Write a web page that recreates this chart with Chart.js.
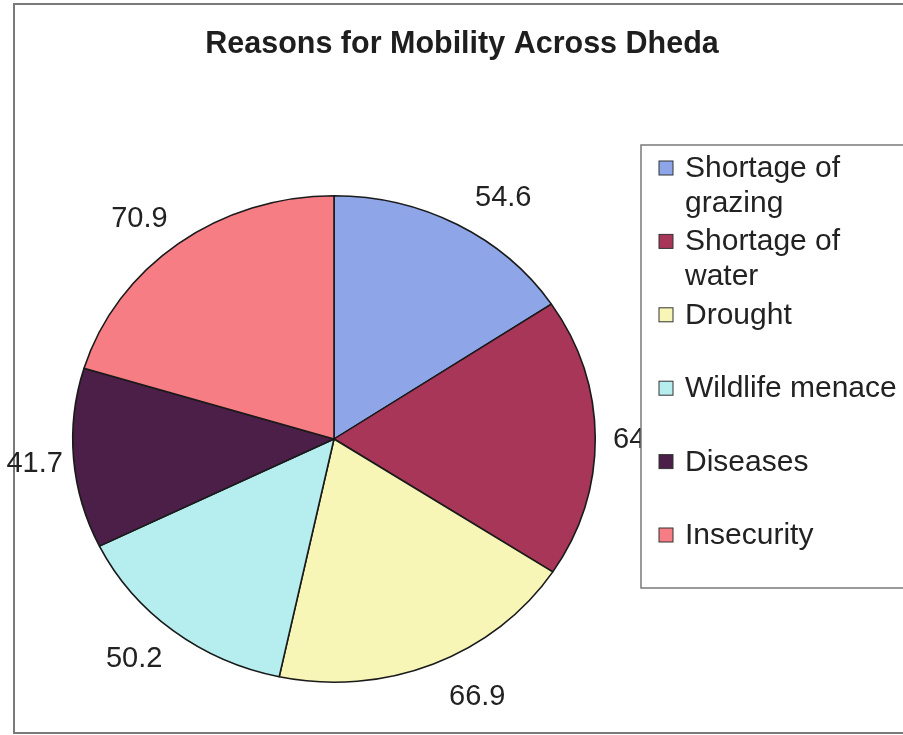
<!DOCTYPE html>
<html>
<head>
<meta charset="utf-8">
<script src="https://cdn.jsdelivr.net/npm/chart.js@4.4.1/dist/chart.umd.min.js"></script>
<style>
  html, body { margin: 0; padding: 0; background: #fff; }
</style>
</head>
<body>
<canvas id="mobilityChart" width="903" height="735"></canvas>
<script>
const chartTitle = 'Reasons for Mobility Across Dheda'
const reasons = [['Shortage of', 'grazing'], ['Shortage of', 'water'], ['Drought'], ['Wildlife menace'], ['Diseases'], ['Insecurity']]
const shares = [54.6, 64.8, 66.9, 50.2, 41.7, 70.9]
const sliceColors = ['#8ea6e8', '#a83659', '#f7f6b6', '#b6eef0', '#4b1f47', '#f67d84']

const FONT = '"Liberation Sans", Arial, sans-serif'
const stretchX = 1.074 // pie is drawn a little wider than tall

// white page with the grey frame round the chart
const frame = {
  id: 'frame',
  beforeDraw(chart) {
    const ctx = chart.ctx
    ctx.save()
    ctx.fillStyle = '#fff'
    ctx.fillRect(0, 0, chart.width, chart.height)
    ctx.strokeStyle = '#7a7a7a'
    ctx.lineWidth = 2
    ctx.strokeRect(14, 4, 920, 729)
    ctx.restore()
  }
}

// squash the pie into an ellipse around the centre of the chart area
const ellipse = {
  id: 'ellipse',
  beforeDatasetsDraw(chart) {
    const ctx = chart.ctx
    const cx = (chart.chartArea.left + chart.chartArea.right) / 2
    ctx.save()
    ctx.translate(cx, 0)
    ctx.scale(stretchX, 1)
    ctx.translate(-cx, 0)
  },
  afterDatasetsDraw(chart) {
    chart.ctx.restore()
  }
}

// values outside each slice
const valueLabels = {
  id: 'valueLabels',
  afterDraw(chart) {
    const ctx = chart.ctx
    const meta = chart.getDatasetMeta(0)
    ctx.save()
    ctx.font = '29px ' + FONT
    ctx.fillStyle = '#222'
    ctx.textAlign = 'center'
    ctx.textBaseline = 'alphabetic'
    meta.data.forEach((arc, i) => {
      const p = arc.getProps(['x', 'y', 'startAngle', 'endAngle', 'outerRadius'], true)
      const mid = (p.startAngle + p.endAngle) / 2
      const c = Math.cos(mid)
      const s = Math.sin(mid)
      const dx = c < 0 ? 39 : 46
      const px = p.x + c * p.outerRadius * stretchX + dx * Math.max(-1, Math.min(1, c * 2.5))
      const py = p.y + s * p.outerRadius + 33 * s
      ctx.fillText(String(chart.data.datasets[0].data[i]), px, py + 10.4)
    })
    ctx.restore()
  }
}

// boxed legend on the right, two-line names allowed
const boxLegend = {
  id: 'boxLegend',
  afterDraw(chart) {
    const ctx = chart.ctx
    const ds = chart.data.datasets[0]
    ctx.save()
    ctx.fillStyle = '#fff'
    ctx.fillRect(641, 145, 300, 443)
    ctx.strokeStyle = '#7a7a7a'
    ctx.lineWidth = 1.5
    ctx.strokeRect(641, 145, 300, 443)
    ctx.font = '30px ' + FONT
    ctx.textBaseline = 'alphabetic'
    ctx.textAlign = 'left'
    reasons.forEach((lines, i) => {
      const base = 177 + i * 73.4
      ctx.fillStyle = ds.backgroundColor[i]
      ctx.fillRect(659, base - 16, 14, 14)
      ctx.strokeStyle = '#333'
      ctx.lineWidth = 1
      ctx.strokeRect(659, base - 16, 14, 14)
      ctx.fillStyle = '#222'
      lines.forEach((t, j) => ctx.fillText(t, 685, base + j * 35))
    })
    ctx.restore()
  }
}

const heading = {
  id: 'heading',
  afterDraw(chart) {
    const ctx = chart.ctx
    ctx.save()
    ctx.font = 'bold 30.5px ' + FONT
    ctx.fillStyle = '#1e1e1e'
    ctx.textAlign = 'center'
    ctx.textBaseline = 'alphabetic'
    ctx.fillText(chartTitle, 462, 53)
    ctx.restore()
  }
}

const data = {
  labels: reasons.map(r => r.join(' ')),
  datasets: [
    {
      data: shares,
      backgroundColor: sliceColors,
      borderColor: '#1a1a1a',
      borderWidth: 1.5,
      clip: false,
    },
  ],
}

const config = {
  type: 'pie',
  data: data,
  options: {
    responsive: false,
    animation: false,
    layout: { padding: { left: 90, right: 325, top: 195, bottom: 52 } },
    plugins: {
      legend: { display: false },
      title: { display: false },
      tooltip: { enabled: false },
    },
  },
  plugins: [frame, ellipse, valueLabels, boxLegend, heading],
}

const canvas = document.getElementById('mobilityChart')
const chart = new Chart(canvas, config)
</script>
</body>
</html>
